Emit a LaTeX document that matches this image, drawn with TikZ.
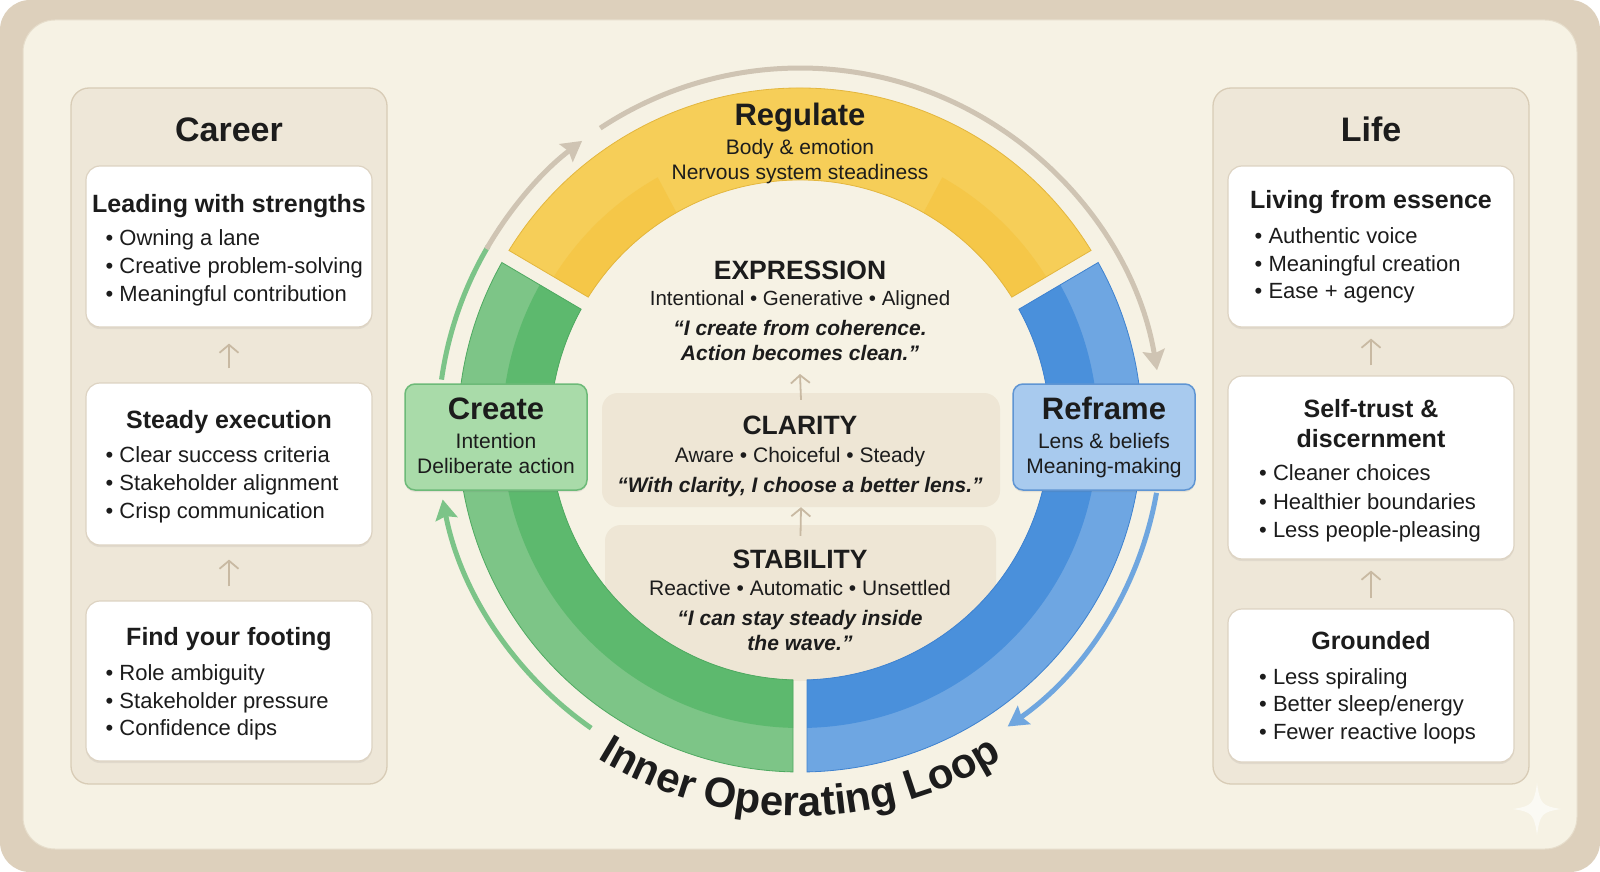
\documentclass[tikz,border=0pt]{standalone}
\usepackage{fontspec}
\setmainfont{Liberation Sans}
\usetikzlibrary{arrows.meta,decorations.text,shadows}
\definecolor{frametan}{HTML}{DDD0BC}
\definecolor{panelcream}{HTML}{F6F2E4}
\definecolor{panelline}{HTML}{E6DDCB}
\definecolor{sidefill}{HTML}{EEE7D8}
\definecolor{sidedraw}{HTML}{D8CCB6}
\definecolor{boxdraw}{HTML}{DDD3C2}
\definecolor{smallarr}{HTML}{C8B9A2}
\definecolor{stagefill}{HTML}{EEE6D5}
\definecolor{yelout}{HTML}{F6CE58}
\definecolor{yelin}{HTML}{F5C748}
\definecolor{yeledge}{HTML}{E3B63E}
\definecolor{grnout}{HTML}{7DC587}
\definecolor{grnin}{HTML}{5DB96E}
\definecolor{grnedge}{HTML}{4FA961}
\definecolor{bluout}{HTML}{6EA6E2}
\definecolor{bluin}{HTML}{4A90DB}
\definecolor{bluedge}{HTML}{3F82CF}
\definecolor{loopgrey}{HTML}{CFC4B3}
\definecolor{loopgreen}{HTML}{7CC488}
\definecolor{loopblue}{HTML}{6FA6DF}
\definecolor{createfill}{HTML}{A9DBA9}
\definecolor{createdraw}{HTML}{6DBA78}
\definecolor{reframefill}{HTML}{A8CAEE}
\definecolor{reframedraw}{HTML}{5F95D3}
\definecolor{ink}{HTML}{1C1C1C}
\definecolor{sparkcol}{HTML}{FBFAF4}

\newcommand\setfs[1]{\fontsize{#1}{#1}\selectfont}
\newcommand\ringseg[5]{%
  \pgfmathsetmacro\rsA{#1+asin(7/#4)}%
  \pgfmathsetmacro\rsB{#2-asin(7/#4)}%
  \pgfmathsetmacro\rsC{#2-asin(7/#3)}%
  \pgfmathsetmacro\rsD{#1+asin(7/#3)}%
  \path[#5] (\rsA:#4) arc[start angle=\rsA, end angle=\rsB, radius=#4] -- (\rsC:#3) arc[start angle=\rsC, end angle=\rsD, radius=#3] -- cycle;}

\tikzset{
  txt/.style={anchor=base, inner sep=0pt, text=ink},
  ttl/.style={txt, font=\setfs{34}\bfseries},
  hd/.style={txt, font=\setfs{25}\bfseries},
  bul/.style={anchor=base west, inner sep=0pt, text=ink, font=\setfs{22}},
  sidepanel/.style={rounded corners=18pt, fill=sidefill, draw=sidedraw, line width=1.3pt, inner sep=0pt},
  whitebox/.style={rounded corners=14pt, fill=white, draw=boxdraw, line width=1.2pt, inner sep=0pt,
     drop shadow={shadow xshift=0pt, shadow yshift=-2pt, opacity=.10, fill=black!60}},
  uparrow/.style={draw=smallarr, line width=1.8pt, -{Straight Barb[length=8pt,width=19pt]}},
  stagebox/.style={rounded corners=16pt, fill=stagefill, inner sep=0pt},
  bigname/.style={txt, font=\setfs{31}\bfseries},
  body/.style={txt, font=\setfs{21}},
  caps/.style={txt, font=\setfs{26.5}\bfseries},
  quote/.style={txt, font=\setfs{21}\bfseries\itshape},
  loopline/.style={line width=5pt, line cap=butt},
  looptip/.style={-{Stealth[length=20pt,width=22pt,inset=3pt]}},
  sidebox/.style={rounded corners=10pt, line width=1.5pt, inner sep=0pt, minimum width=182pt, minimum height=106pt,
     drop shadow={shadow xshift=0pt, shadow yshift=-2pt, opacity=.12, fill=black!60}}
}

\begin{document}
\begin{tikzpicture}[x=1pt,y=1pt]
\useasboundingbox (0,0) rectangle (1600,-872);
\fill[white] (0,0) rectangle (1600,-872);
\fill[frametan, rounded corners=30pt] (0,0) rectangle (1600,-872);
\filldraw[fill=panelcream, draw=panelline, line width=1pt, rounded corners=32pt] (23,-20) rectangle (1577,-849);
% sparkle
\fill[sparkcol] (1537,-783) .. controls (1540,-804) and (1542,-806) .. (1561,-809)
  .. controls (1542,-812) and (1540,-814) .. (1537,-835)
  .. controls (1534,-814) and (1532,-812) .. (1513,-809)
  .. controls (1532,-806) and (1534,-804) .. (1537,-783);

% ---------------- Career column
\node[sidepanel, minimum width=316pt, minimum height=696pt] (careerP) at (229,-436) {};
\node[ttl] (careerT) at (229,-142) {Career};
\node[whitebox, minimum width=286pt, minimum height=161pt] (cb1) at (229,-246.5) {};
\node[whitebox, minimum width=286pt, minimum height=162pt] (cb2) at (229,-464) {};
\node[whitebox, minimum width=286pt, minimum height=160pt] (cb3) at (229,-681) {};
\node[hd] (cb1h) at (229,-212) {Leading with strengths};
\node[bul] (cb1a) at (105.5,-245) {• Owning a lane};
\node[bul] (cb1b) at (105.5,-273) {• Creative problem-solving};
\node[bul] (cb1c) at (105.5,-301) {• Meaningful contribution};
\node[hd] (cb2h) at (229,-428) {Steady execution};
\node[bul] (cb2a) at (105.5,-462) {• Clear success criteria};
\node[bul] (cb2b) at (105.5,-490) {• Stakeholder alignment};
\node[bul] (cb2c) at (105.5,-518) {• Crisp communication};
\node[hd] (cb3h) at (229,-645) {Find your footing};
\node[bul] (cb3a) at (105.5,-680) {• Role ambiguity};
\node[bul] (cb3b) at (105.5,-708) {• Stakeholder pressure};
\node[bul] (cb3c) at (105.5,-735) {• Confidence dips};
\draw[uparrow, shorten <=14pt, shorten >=16pt] (cb2.north) -- (cb1.south);
\draw[uparrow, shorten <=14pt, shorten >=14pt] (cb3.north) -- (cb2.south);

% ---------------- Life column
\node[sidepanel, minimum width=316pt, minimum height=696pt] (lifeP) at (1371,-436) {};
\node[ttl] (lifeT) at (1371,-142) {Life};
\node[whitebox, minimum width=286pt, minimum height=161pt] (lb1) at (1371,-246.5) {};
\node[whitebox, minimum width=286pt, minimum height=183pt] (lb2) at (1371,-467.5) {};
\node[whitebox, minimum width=286pt, minimum height=153pt] (lb3) at (1371,-685.5) {};
\node[hd] (lb1h) at (1371,-208) {Living from essence};
\node[bul] (lb1a) at (1254.5,-243) {• Authentic voice};
\node[bul] (lb1b) at (1254.5,-271) {• Meaningful creation};
\node[bul] (lb1c) at (1254.5,-298) {• Ease + agency};
\node[hd] (lb2h) at (1371,-417) {Self-trust \&};
\node[hd] (lb2i) at (1371,-447) {discernment};
\node[bul] (lb2a) at (1259,-480) {• Cleaner choices};
\node[bul] (lb2b) at (1259,-509) {• Healthier boundaries};
\node[bul] (lb2c) at (1259,-537) {• Less people-pleasing};
\node[hd] (lb3h) at (1371,-649) {Grounded};
\node[bul] (lb3a) at (1259,-684) {• Less spiraling};
\node[bul] (lb3b) at (1259,-711) {• Better sleep/energy};
\node[bul] (lb3c) at (1259,-739) {• Fewer reactive loops};
\draw[uparrow, shorten <=10pt, shorten >=11pt] (lb2.north) -- (lb1.south);
\draw[uparrow, shorten <=10pt, shorten >=11pt] (lb3.north) -- (lb2.south);

% ---------------- centre stages
\node[stagebox, minimum width=398pt, minimum height=114pt] (clar) at (801,-450) {};
\begin{scope}
  \clip (800,-430) circle[radius=251];
  \node[stagebox, minimum width=391pt, minimum height=240pt] (stab) at (800.5,-645) {};
\end{scope}

% ---------------- ring
\begin{scope}[shift={(800,-430)}]
  \ringseg{30.5}{149.5}{250}{342}{fill=yelout}
  \ringseg{30.5}{62}{250}{290}{fill=yelin}
  \ringseg{118}{149.5}{250}{290}{fill=yelin}
  \ringseg{30.5}{149.5}{250}{342}{draw=yeledge, line width=0.8pt}
  \ringseg{149.5}{270}{250}{342}{fill=grnout}
  \ringseg{149.5}{270}{250}{298}{fill=grnin}
  \ringseg{149.5}{270}{250}{342}{draw=grnedge, line width=0.8pt}
  \ringseg{-90}{30.5}{250}{342}{fill=bluout}
  \ringseg{-90}{30.5}{250}{298}{fill=bluin}
  \ringseg{-90}{30.5}{250}{342}{draw=bluedge, line width=0.8pt}
\end{scope}

% ---------------- centre texts
\node[bigname] (regT) at (800,-125) {Regulate};
\node[body] (regA) at (800,-154) {Body \& emotion};
\node[body] (regB) at (800,-179.5) {Nervous system steadiness};
\node[caps] (expT) at (800,-279.5) {EXPRESSION};
\node[txt, font=\setfs{20.5}] (expA) at (800,-305) {Intentional • Generative • Aligned};
\node[quote] (expQ1) at (800,-335.5) {“I create from coherence.};
\node[quote] (expQ2) at (800,-360) {Action becomes clean.”};
\node[caps] (clarT) at (800,-434.5) {CLARITY};
\node[body] (clarA) at (800,-462) {Aware • Choiceful • Steady};
\node[quote] (clarQ) at (800,-492) {“With clarity, I choose a better lens.”};
\node[caps] (stabT) at (800,-568) {STABILITY};
\node[body] (stabA) at (800,-595) {Reactive • Automatic • Unsettled};
\node[quote] (stabQ1) at (800,-625.5) {“I can stay steady inside};
\node[quote] (stabQ2) at (800,-650) {the wave.”};
\coordinate (expArrTop) at (800,-374);
\draw[uparrow] ([yshift=-7pt]clar.north) -- (expArrTop);
\draw[uparrow] ([yshift=-11pt]stab.north) -- (clar.south);

% ---------------- Create / Reframe
\node[sidebox, fill=createfill, draw=createdraw] (create) at (496,-437) {};
\node[bigname] (createT) at (496,-419.5) {Create};
\node[body] (createA) at (496,-448) {Intention};
\node[body] (createB) at (496,-473.5) {Deliberate action};
\node[sidebox, fill=reframefill, draw=reframedraw] (reframe) at (1104,-437) {};
\node[bigname] (reframeT) at (1104,-419.5) {Reframe};
\node[body] (reframeA) at (1104,-448) {Lens \& beliefs};
\node[body] (reframeB) at (1104,-473.5) {Meaning-making};

% ---------------- loop arrows
\begin{scope}[shift={(800,-430)}]
  \draw[loopline, loopgreen] (172:362) arc[start angle=172, end angle=149.5, radius=362];
  \draw[loopline, loopgrey, looptip] (150:362) arc[start angle=150, end angle=127, radius=362];
  \draw[loopline, loopgrey, looptip] (123.5:362) arc[start angle=123.5, end angle=9.5, radius=362];
  \draw[loopline, loopblue, looptip] (-10:362) arc[start angle=-10, end angle=-55, radius=362];
  \draw[loopline, loopgreen, looptip] (235:364) arc[start angle=235, end angle=191, radius=364];
  \path[decorate, decoration={text along path, text align=center,
      text={|\setfs{42}\bfseries\color{ink}|Inner Operating Loop}}]
      (200:386) arc[start angle=200, end angle=340, radius=386];
\end{scope}
\end{tikzpicture}
\end{document}
